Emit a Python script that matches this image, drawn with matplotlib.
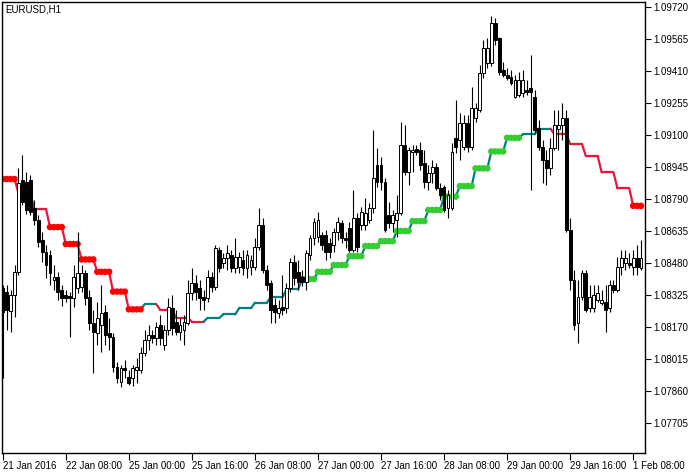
import matplotlib
matplotlib.use("Agg")
import matplotlib.pyplot as plt
from matplotlib.collections import LineCollection

plt.rcParams['font.family'] = ['Liberation Sans', 'DejaVu Sans']

symbol_label = "EURUSD,H1"

# EURUSD H1 candles, prices in points (1 point = 0.00001)
opens = [108358, 108339, 108247, 108324, 108436, 108882, 108872, 108882, 108746, 108688,
         108591, 108533, 108518, 108397, 108412, 108349, 108324, 108319, 108310, 108358,
         108363, 108431, 108314, 108188, 108140, 108179, 108242, 108140, 108121, 107975,
         107902, 107970, 107927, 107922, 107961, 107961, 108043, 108106, 108130, 108116,
         108179, 108082, 108155, 108261, 108193, 108145, 108155, 108188, 108334, 108382,
         108358, 108314, 108310, 108412, 108363, 108543, 108479, 108504, 108518, 108455,
         108460, 108494, 108455, 108460, 108460, 108557, 108664, 108446, 108382, 108276,
         108237, 108266, 108261, 108358, 108484, 108436, 108412, 108387, 108518, 108601,
         108606, 108615, 108615, 108576, 108567, 108630, 108673, 108601, 108649, 108543,
         108698, 108664, 108664, 108688, 108746, 108955, 108955, 108872, 108712, 108673,
         108688, 108722, 109052, 108921, 109018, 109032, 109028, 108964, 108872, 108916,
         108945, 108843, 108848, 108746, 108746, 109086, 109076, 109042, 109158, 109042,
         109183, 109222, 109401, 109449, 109449, 109643, 109571, 109416, 109391, 109382,
         109285, 109294, 109304, 109319, 109328, 109285, 109134, 109042, 108979, 108940,
         109037, 109129, 109149, 109183, 108640, 108397, 108188, 108314, 108431, 108261,
         108261, 108300, 108285, 108290, 108261, 108373, 108349, 108460, 108479, 108479,
         108460, 108504, 108455]
highs = [108373, 108373, 108349, 108470, 108940, 109003, 108921, 108906, 108785, 108712,
         108630, 108567, 108543, 108470, 108436, 108373, 108349, 108339, 108470, 108630,
         108470, 108446, 108349, 108252, 108290, 108373, 108276, 108213, 108140, 107999,
         107985, 108009, 107961, 107985, 108019, 108072, 108155, 108179, 108155, 108193,
         108227, 108179, 108310, 108324, 108252, 108213, 108227, 108397, 108455, 108421,
         108397, 108349, 108446, 108436, 108567, 108557, 108528, 108567, 108543, 108601,
         108533, 108543, 108543, 108518, 108601, 108746, 108698, 108470, 108397, 108310,
         108300, 108421, 108382, 108504, 108518, 108494, 108446, 108543, 108615, 108698,
         108727, 108630, 108640, 108601, 108649, 108703, 108688, 108630, 108678, 108834,
         108722, 108751, 108795, 108770, 109125, 109037, 108994, 108892, 108775, 108737,
         108809, 109163, 109149, 109042, 109052, 109052, 109066, 109028, 108955, 108979,
         108964, 108867, 108858, 108834, 109061, 109270, 109207, 109197, 109197, 109333,
         109255, 109440, 109561, 109571, 109677, 109668, 109576, 109454, 109425, 109416,
         109391, 109406, 109416, 109367, 109488, 109319, 109173, 109076, 109028, 109086,
         109222, 109222, 109255, 109222, 108698, 108446, 108397, 108446, 108446, 108373,
         108373, 108373, 108349, 108373, 108397, 108397, 108509, 108543, 108543, 108528,
         108543, 108567, 108591]
lows = [107922, 108155, 108145, 108218, 108421, 108761, 108717, 108712, 108664, 108557,
        108484, 108407, 108373, 108349, 108300, 108271, 108290, 108121, 108266, 108334,
        108339, 108276, 108155, 107946, 108082, 108048, 108082, 108058, 107951, 107897,
        107878, 107922, 107888, 107883, 107897, 107946, 108028, 108058, 108091, 108082,
        108082, 108058, 108130, 108130, 108130, 108106, 108082, 108179, 108300, 108300,
        108252, 108252, 108290, 108339, 108349, 108436, 108455, 108446, 108436, 108431,
        108431, 108421, 108407, 108421, 108446, 108543, 108431, 108349, 108188, 108188,
        108213, 108227, 108237, 108339, 108373, 108349, 108368, 108349, 108494, 108567,
        108581, 108543, 108494, 108504, 108533, 108591, 108576, 108552, 108533, 108533,
        108533, 108640, 108640, 108673, 108722, 108848, 108834, 108630, 108649, 108630,
        108606, 108712, 108906, 108858, 108921, 109003, 108931, 108843, 108834, 108867,
        108834, 108785, 108727, 108698, 108737, 109013, 108979, 109028, 109018, 109028,
        109163, 109212, 109377, 109425, 109435, 109537, 109391, 109382, 109367, 109343,
        109280, 109285, 109285, 109294, 108834, 109110, 109028, 108867, 108858, 108906,
        109028, 109028, 109076, 108630, 108349, 108155, 108091, 108300, 108242, 108242,
        108242, 108290, 108276, 108145, 108242, 108334, 108339, 108421, 108446, 108455,
        108421, 108421, 108446]
closes = [108242, 108252, 108324, 108436, 108867, 108775, 108737, 108727, 108688, 108581,
          108533, 108470, 108431, 108412, 108339, 108310, 108310, 108310, 108412, 108431,
          108431, 108310, 108188, 108145, 108213, 108237, 108130, 108121, 107975, 107922,
          107970, 107961, 107897, 107970, 107975, 108043, 108106, 108130, 108116, 108169,
          108116, 108155, 108266, 108164, 108145, 108179, 108193, 108334, 108382, 108339,
          108310, 108300, 108412, 108363, 108552, 108455, 108504, 108528, 108455, 108509,
          108509, 108455, 108518, 108494, 108557, 108664, 108446, 108373, 108252, 108242,
          108261, 108252, 108358, 108484, 108407, 108387, 108387, 108528, 108601, 108678,
          108688, 108567, 108533, 108533, 108630, 108678, 108601, 108591, 108543, 108698,
          108557, 108727, 108722, 108746, 108892, 108872, 108872, 108640, 108673, 108712,
          108722, 109052, 108921, 109028, 109028, 109018, 108955, 108872, 108916, 108945,
          108843, 108809, 108737, 108809, 109018, 109042, 109158, 109158, 109042, 109231,
          109231, 109401, 109522, 109522, 109643, 109561, 109406, 109391, 109377, 109352,
          109367, 109367, 109367, 109309, 109309, 109125, 109042, 108979, 108940, 109037,
          109149, 109149, 109183, 108640, 108397, 108179, 108314, 108431, 108252, 108314,
          108324, 108334, 108300, 108252, 108373, 108349, 108460, 108504, 108504, 108470,
          108504, 108460, 108504]

# H4 trend line: one level per block of 4 H1 bars
step_level = [108887, 108819, 108741, 108654, 108572, 108497, 108437, 108341, 108255, 108279,
              108252, 108214, 108195, 108214, 108230, 108260, 108287, 108313, 108352, 108402,
              108437, 108470, 108513, 108562, 108586, 108635, 108683, 108737, 108802, 108853,
              108939, 109021, 109087, 109104, 109132, 109104, 109057, 108998, 108919, 108842,
              108757]
step_up = [0, 0, 0, 0, 0, 0, 0, 0, 0, 1,
           0, 0, 0, 1, 1, 1, 1, 1, 1, 1,
           1, 1, 1, 1, 1, 1, 1, 1, 1, 1,
           1, 1, 1, 1, 1, 0, 0, 0, 0, 0,
           0]
step_dots = [1, 0, 0, 1, 1, 1, 1, 1, 1, 0,
             0, 0, 0, 0, 0, 0, 0, 0, 0, 1,
             1, 1, 1, 1, 1, 1, 1, 1, 1, 1,
             1, 1, 1, 0, 0, 0, 0, 0, 0, 0,
             1]

price_ticks = [1.09720, 1.09565, 1.09410, 1.09255, 1.09100, 1.08945, 1.08790,
               1.08635, 1.08480, 1.08325, 1.08170, 1.08015, 1.07860, 1.07705]
time_tick_bars = [0, 16, 32, 48, 64, 80, 96, 112, 128, 144, 160]
time_tick_labels = ["21 Jan 2016", "22 Jan 08:00", "25 Jan 00:00", "25 Jan 16:00",
                    "26 Jan 08:00", "27 Jan 00:00", "27 Jan 16:00", "28 Jan 08:00",
                    "29 Jan 00:00", "29 Jan 16:00", "1 Feb 08:00"]

PT = 0.00001
o = [v * PT for v in opens]
h = [v * PT for v in highs]
l = [v * PT for v in lows]
c = [v * PT for v in closes]
n = len(o)
x = list(range(n))

fig = plt.figure(figsize=(6.96, 4.73), dpi=100)
ax = fig.add_axes([2 / 696, 20 / 473, 643 / 696, 451 / 473])

# trend line, coloured by block
line_y = [step_level[i // 4] * PT for i in x]
segs, cols = [], []
for i in range(n - 1):
    segs.append([(i, line_y[i]), (i + 1, line_y[i + 1])])
    cols.append("#008080" if step_up[(i + 1) // 4] else "#e8173c")
ax.add_collection(LineCollection(segs, colors=cols, linewidths=1.6, zorder=1,
                                 capstyle="round", joinstyle="round"))

dx, dy, dc = [], [], []
for i in x:
    k = i // 4
    if step_dots[k]:
        dx.append(i)
        dy.append(line_y[i])
        dc.append("#32cd32" if step_up[k] else "#ff0000")
ax.scatter(dx, dy, s=22, c=dc, linewidths=0, zorder=2)

# candles
ax.vlines(x, l, h, color="black", linewidth=0.8, zorder=3)
bull = [i for i in x if c[i] >= o[i]]
bear = [i for i in x if c[i] < o[i]]
ax.bar(bull, [c[i] - o[i] for i in bull], bottom=[o[i] for i in bull], width=0.72,
       facecolor="white", edgecolor="black", linewidth=0.7, zorder=4)
ax.bar(bear, [o[i] - c[i] for i in bear], bottom=[c[i] for i in bear], width=0.72,
       facecolor="black", edgecolor="black", linewidth=0.7, zorder=4)

ax.set_xlim(-0.18, 163.0)
ax.set_ylim(1.07558, 1.09746)

ax.yaxis.tick_right()
ax.set_yticks(price_ticks)
ax.set_yticklabels(["%.5f" % p for p in price_ticks])
ax.set_xticks(time_tick_bars)
ax.set_xticklabels(time_tick_labels, ha="left")
ax.tick_params(axis="y", direction="out", length=4, width=0.8, pad=2, labelsize=7)
ax.tick_params(axis="x", direction="out", length=5, width=0.8, pad=1, labelsize=7)
for s in ax.spines.values():
    s.set_linewidth(1.0)

ax.text(0.005, 0.994, symbol_label, transform=ax.transAxes, ha="left", va="top",
        fontsize=7)

fig.savefig("out.png", dpi=100)
